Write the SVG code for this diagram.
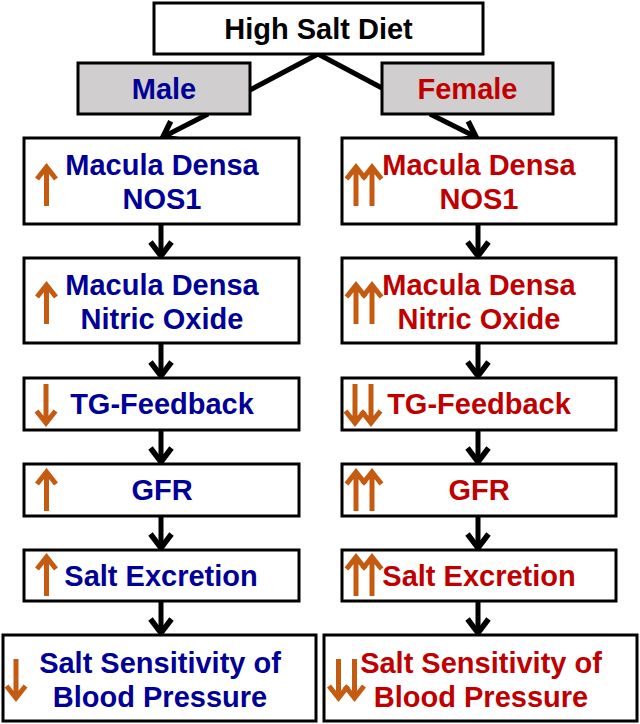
<svg xmlns="http://www.w3.org/2000/svg" xmlns:xlink="http://www.w3.org/1999/xlink" width="640" height="724" viewBox="0 0 640 724">
<style>
.box{fill:#fff;stroke:#000;stroke-width:3}
.gbox{fill:#D0CECE;stroke:#000;stroke-width:3}
text{font-family:"Liberation Sans",Arial,sans-serif;font-weight:bold;font-size:29px;text-anchor:middle}
.k{fill:#000}
.m{fill:#000096}
.f{fill:#C00000}
.con{stroke:#000;stroke-width:5;fill:none}
.oa{stroke:#C55A11;stroke-width:5;fill:none;stroke-linejoin:miter}
</style>
<defs>
<marker id="ah" markerUnits="userSpaceOnUse" viewBox="-22 -16 28 32" markerWidth="28" markerHeight="32" refX="0" refY="0" orient="auto">
<path d="M-14,-10.5 L0,0 L-14,10.5" fill="none" stroke="#000" stroke-width="5.5"/>
</marker>
<g id="au"><path class="oa" d="M0,4 V41 M-9.5,14 L0,2 L9.5,14"/></g>
<g id="ad"><path class="oa" d="M0,0 V37 M-9.5,27 L0,39 L9.5,27"/></g>
</defs>

<g id="connectors">
<path class="con" d="M318,54 L250,90"/>
<path class="con" d="M318,54 L382,88"/>
<path class="con" d="M208,114 L163,137" marker-end="url(#ah)"/>
<path class="con" d="M430,114 L476,137" marker-end="url(#ah)"/>
<path class="con" d="M161,224 V256" marker-end="url(#ah)"/>
<path class="con" d="M161,343 V376" marker-end="url(#ah)"/>
<path class="con" d="M161,430 V462" marker-end="url(#ah)"/>
<path class="con" d="M161,516 V548" marker-end="url(#ah)"/>
<path class="con" d="M161,601 V633" marker-end="url(#ah)"/>
<path class="con" d="M478,224 V256" marker-end="url(#ah)"/>
<path class="con" d="M478,343 V376" marker-end="url(#ah)"/>
<path class="con" d="M478,430 V462" marker-end="url(#ah)"/>
<path class="con" d="M478,516 V548" marker-end="url(#ah)"/>
<path class="con" d="M478,601 V633" marker-end="url(#ah)"/>
</g>

<g id="n-diet"><rect class="box" x="154" y="3" width="329" height="51"/><text class="k" x="318.5" y="39">High Salt Diet</text></g>
<g id="n-male"><rect class="gbox" x="78" y="63" width="172" height="51"/><text class="m" x="164" y="99">Male</text></g>
<g id="n-female"><rect class="gbox" x="382" y="63" width="171" height="51"/><text class="f" x="467.5" y="99">Female</text></g>

<g id="m-nos1"><rect class="box" x="24" y="138" width="275" height="86"/><use xlink:href="#au" x="46.5" y="165"/><text class="m" x="162" y="175">Macula Densa</text><text class="m" x="162" y="209">NOS1</text></g>
<g id="m-no"><rect class="box" x="24" y="258" width="275" height="85"/><use xlink:href="#au" x="46.5" y="283"/><text class="m" x="162" y="295">Macula Densa</text><text class="m" x="162" y="329">Nitric Oxide</text></g>
<g id="m-tgf"><rect class="box" x="24" y="378" width="275" height="52"/><use xlink:href="#ad" x="46" y="384"/><text class="m" x="162" y="414">TG-Feedback</text></g>
<g id="m-gfr"><rect class="box" x="24" y="464" width="275" height="52"/><use xlink:href="#au" x="46.5" y="470"/><text class="m" x="162" y="500">GFR</text></g>
<g id="m-salt"><rect class="box" x="24" y="550" width="275" height="51"/><use xlink:href="#au" x="46.5" y="555"/><text class="m" x="161" y="586">Salt Excretion</text></g>
<g id="m-ss"><rect class="box" x="3" y="635" width="313" height="86"/><use xlink:href="#ad" x="16" y="659"/><text class="m" x="160" y="673">Salt Sensitivity of</text><text class="m" x="160" y="707">Blood Pressure</text></g>

<g id="f-nos1"><rect class="box" x="342" y="138" width="274" height="86"/><use xlink:href="#au" x="356" y="165"/><use xlink:href="#au" x="372" y="165"/><text class="f" x="479" y="175">Macula Densa</text><text class="f" x="479" y="209">NOS1</text></g>
<g id="f-no"><rect class="box" x="342" y="258" width="274" height="85"/><use xlink:href="#au" x="356" y="283"/><use xlink:href="#au" x="372" y="283"/><text class="f" x="479" y="295">Macula Densa</text><text class="f" x="479" y="329">Nitric Oxide</text></g>
<g id="f-tgf"><rect class="box" x="342" y="378" width="274" height="52"/><use xlink:href="#ad" x="355" y="384"/><use xlink:href="#ad" x="371" y="384"/><text class="f" x="479" y="414">TG-Feedback</text></g>
<g id="f-gfr"><rect class="box" x="342" y="464" width="274" height="52"/><use xlink:href="#au" x="356" y="470"/><use xlink:href="#au" x="372" y="470"/><text class="f" x="479" y="500">GFR</text></g>
<g id="f-salt"><rect class="box" x="342" y="550" width="274" height="51"/><use xlink:href="#au" x="356" y="555"/><use xlink:href="#au" x="372" y="555"/><text class="f" x="479" y="586">Salt Excretion</text></g>
<g id="f-ss"><rect class="box" x="324" y="635" width="313" height="86"/><use xlink:href="#ad" x="338.5" y="659"/><use xlink:href="#ad" x="354.5" y="659"/><text class="f" x="481" y="673">Salt Sensitivity of</text><text class="f" x="481" y="707">Blood Pressure</text></g>
</svg>
